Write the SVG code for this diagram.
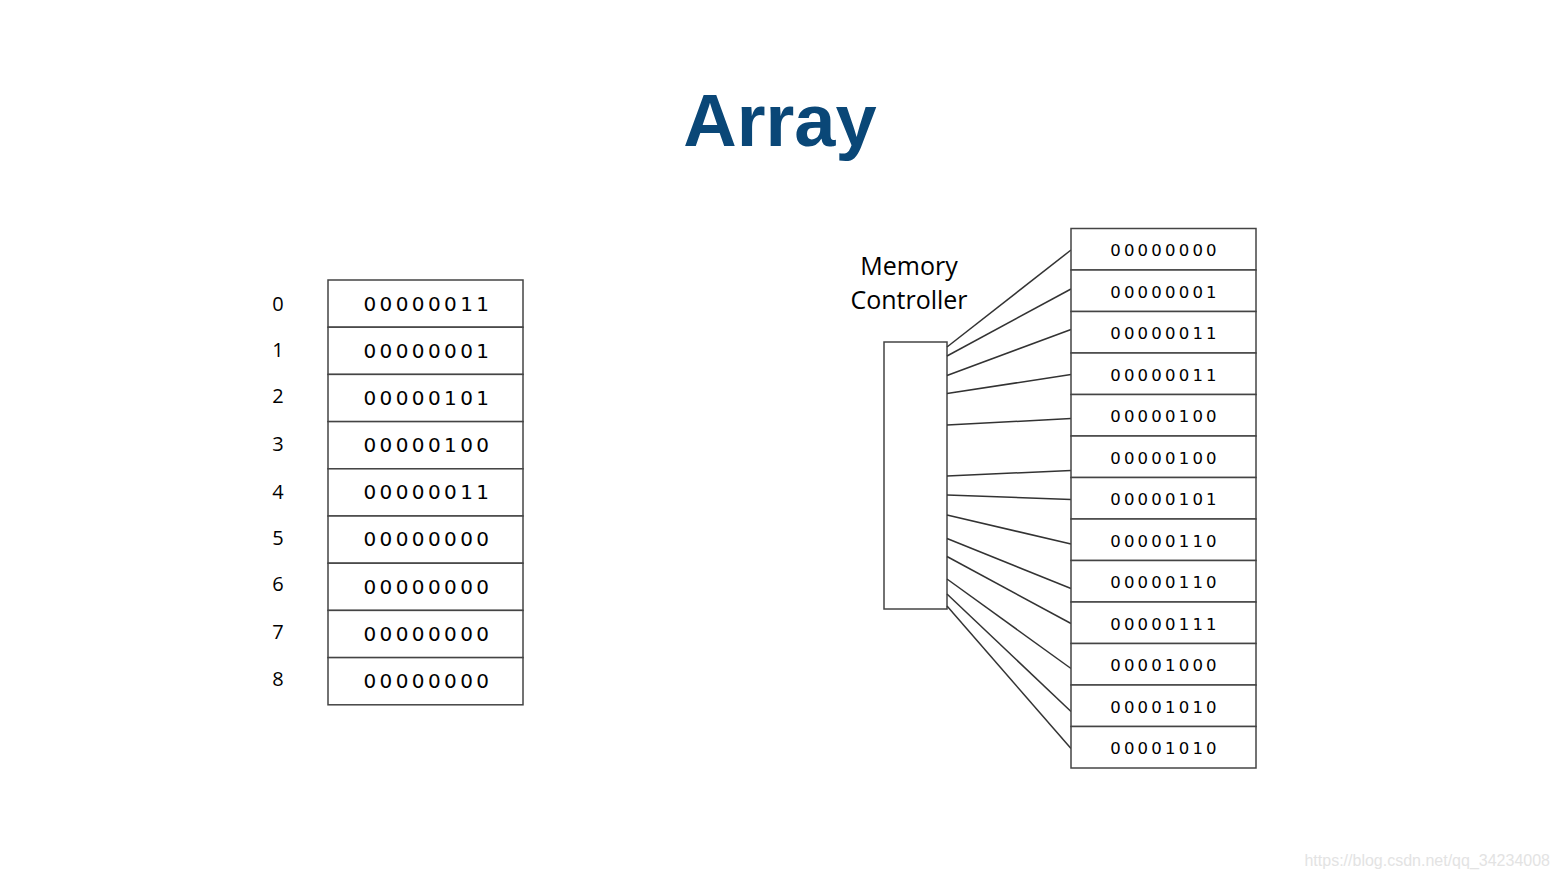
<svg xmlns="http://www.w3.org/2000/svg" width="1560" height="878" viewBox="0 0 1560 878">
<style>
.cell{fill:#fff;stroke:#444;stroke-width:1.5}
.bl{font-family:"DejaVu Sans",sans-serif;font-size:20px;letter-spacing:3.4px;fill:#000;text-anchor:middle}
.br{font-family:"DejaVu Sans",sans-serif;font-size:16.5px;letter-spacing:3.2px;fill:#000;text-anchor:middle}
.idx{font-family:"Open Sans",sans-serif;font-size:20px;fill:#000;text-anchor:middle}
.lbl{font-family:"Open Sans",sans-serif;font-size:25px;fill:#000;text-anchor:middle}
.wire{stroke:#333;stroke-width:1.5;fill:none}
</style>
<rect width="1560" height="878" fill="#fff"/>
<text x="780" y="146" font-family="Liberation Sans,Arial,sans-serif" font-weight="bold" font-size="74" fill="#0a4777" text-anchor="middle">Array</text>

<g id="left-array">
<rect class="cell" x="328" y="280" width="195" height="47.2"/>
<rect class="cell" x="328" y="327.2" width="195" height="47.2"/>
<rect class="cell" x="328" y="374.4" width="195" height="47.2"/>
<rect class="cell" x="328" y="421.6" width="195" height="47.2"/>
<rect class="cell" x="328" y="468.8" width="195" height="47.2"/>
<rect class="cell" x="328" y="516" width="195" height="47.2"/>
<rect class="cell" x="328" y="563.2" width="195" height="47.2"/>
<rect class="cell" x="328" y="610.4" width="195" height="47.2"/>
<rect class="cell" x="328" y="657.6" width="195" height="47.2"/>
<text class="bl" x="428" y="311">00000011</text>
<text class="bl" x="428" y="358">00000001</text>
<text class="bl" x="428" y="405">00000101</text>
<text class="bl" x="428" y="452">00000100</text>
<text class="bl" x="428" y="499">00000011</text>
<text class="bl" x="428" y="546">00000000</text>
<text class="bl" x="428" y="594">00000000</text>
<text class="bl" x="428" y="641">00000000</text>
<text class="bl" x="428" y="688">00000000</text>
</g>
<g id="indices">
<text class="idx" x="278" y="311">0</text>
<text class="idx" x="278" y="357">1</text>
<text class="idx" x="278" y="403">2</text>
<text class="idx" x="278" y="451">3</text>
<text class="idx" x="278" y="499">4</text>
<text class="idx" x="278" y="545">5</text>
<text class="idx" x="278" y="591">6</text>
<text class="idx" x="278" y="639">7</text>
<text class="idx" x="278" y="686">8</text>
</g>

<g id="memory-controller">
<text class="lbl" x="909" y="275">Memory</text>
<text class="lbl" x="909" y="309">Controller</text>
<rect class="cell" x="884" y="342" width="63" height="267"/>
</g>

<g id="connectors">
<line class="wire" x1="947" y1="347" x2="1071" y2="250"/>
<line class="wire" x1="947" y1="356" x2="1071" y2="289"/>
<line class="wire" x1="947" y1="375.5" x2="1071" y2="329.5"/>
<line class="wire" x1="947" y1="393.5" x2="1071" y2="374.5"/>
<line class="wire" x1="947" y1="425" x2="1071" y2="418.5"/>
<line class="wire" x1="947" y1="476" x2="1071" y2="470.5"/>
<line class="wire" x1="947" y1="495" x2="1071" y2="499.5"/>
<line class="wire" x1="947" y1="515" x2="1071" y2="544"/>
<line class="wire" x1="947" y1="538.5" x2="1071" y2="588.5"/>
<line class="wire" x1="947" y1="556.5" x2="1071" y2="623.5"/>
<line class="wire" x1="947" y1="579" x2="1071" y2="668.5"/>
<line class="wire" x1="947" y1="594" x2="1071" y2="711.5"/>
<line class="wire" x1="947" y1="606" x2="1071" y2="748.5"/>
</g>

<g id="memory">
<rect class="cell" x="1071" y="228.5" width="185" height="41.5"/>
<rect class="cell" x="1071" y="270" width="185" height="41.5"/>
<rect class="cell" x="1071" y="311.5" width="185" height="41.5"/>
<rect class="cell" x="1071" y="353" width="185" height="41.5"/>
<rect class="cell" x="1071" y="394.5" width="185" height="41.5"/>
<rect class="cell" x="1071" y="436" width="185" height="41.5"/>
<rect class="cell" x="1071" y="477.5" width="185" height="41.5"/>
<rect class="cell" x="1071" y="519" width="185" height="41.5"/>
<rect class="cell" x="1071" y="560.5" width="185" height="41.5"/>
<rect class="cell" x="1071" y="602" width="185" height="41.5"/>
<rect class="cell" x="1071" y="643.5" width="185" height="41.5"/>
<rect class="cell" x="1071" y="685" width="185" height="41.5"/>
<rect class="cell" x="1071" y="726.5" width="185" height="41.5"/>
<text class="br" x="1165" y="256">00000000</text>
<text class="br" x="1165" y="297.5">00000001</text>
<text class="br" x="1165" y="339">00000011</text>
<text class="br" x="1165" y="380.5">00000011</text>
<text class="br" x="1165" y="422">00000100</text>
<text class="br" x="1165" y="463.5">00000100</text>
<text class="br" x="1165" y="505">00000101</text>
<text class="br" x="1165" y="546.5">00000110</text>
<text class="br" x="1165" y="588">00000110</text>
<text class="br" x="1165" y="629.5">00000111</text>
<text class="br" x="1165" y="671">00001000</text>
<text class="br" x="1165" y="712.5">00001010</text>
<text class="br" x="1165" y="754">00001010</text>
</g>

<text x="1550" y="866" font-family="Liberation Sans,Arial,sans-serif" font-size="16" fill="#e3e3e3" text-anchor="end">https://blog.csdn.net/qq_34234008</text>
</svg>
